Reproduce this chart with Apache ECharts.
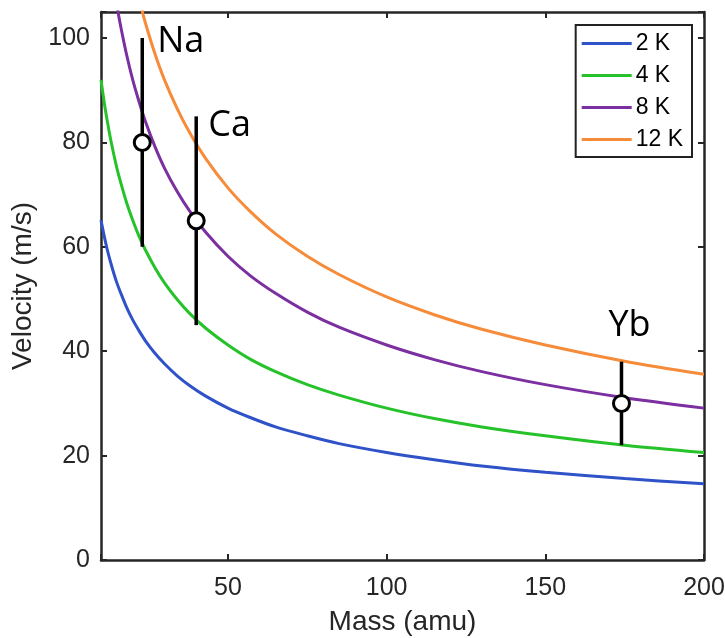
<!DOCTYPE html>
<html>
<head>
<meta charset="utf-8">
<script src="https://cdn.jsdelivr.net/npm/echarts@6/dist/echarts.min.js"></script>
<style>
  html, body { margin: 0; padding: 0; background: #fff; }
  #chart { width: 725px; height: 638px; }
</style>
</head>
<body>
<div id="chart"></div>
<script>
// Mean thermal velocity curves, sampled along the mass axis (amu → m/s)
const masses = [10, 11, 12, 13, 14, 15, 16, 18, 20, 22, 24, 27, 30, 34, 38, 43, 50, 57, 65, 75, 85, 100, 115, 130, 150, 175, 200];
const v2K  = [65.1, 62.1, 59.4, 57.1, 55.0, 53.1, 51.5, 48.5, 46.0, 43.9, 42.0, 39.6, 37.6, 35.3, 33.4, 31.4, 29.1, 27.3, 25.5, 23.8, 22.3, 20.6, 19.2, 18.0, 16.8, 15.6, 14.6];
const v4K  = [92.0, 87.7, 84.0, 80.7, 77.8, 75.1, 72.8, 68.6, 65.1, 62.0, 59.4, 56.0, 53.1, 49.9, 47.2, 44.4, 41.2, 38.5, 36.1, 33.6, 31.6, 29.1, 27.1, 25.5, 23.8, 22.0, 20.6];
const v8K  = [130.2, 124.1, 118.8, 114.2, 110.0, 106.3, 102.9, 97.0, 92.0, 87.8, 84.0, 79.2, 75.1, 70.6, 66.8, 62.8, 58.2, 54.5, 51.1, 47.5, 44.6, 41.2, 38.4, 36.1, 33.6, 31.1, 29.1];
const v12K = [159.4, 152.0, 145.5, 139.8, 134.7, 130.2, 126.0, 118.8, 112.7, 107.5, 102.9, 97.0, 92.0, 86.5, 81.8, 76.9, 71.3, 66.8, 62.5, 58.2, 54.7, 50.4, 47.0, 44.2, 41.2, 38.1, 35.6];
const curveNames = ['2 K', '4 K', '8 K', '12 K'];

// Measured species: mass, velocity and its uncertainty
const species = ['Na', 'Ca', 'Yb'];
const speciesMass = [23, 40, 174];
const speciesVel = [80, 65, 30];
const speciesErr = [20, 20, 8];

// Axis tick labels
const xTicks = [50, 100, 150, 200];
const yTicks = [0, 20, 40, 60, 80, 100];

// Styling
const curveColors = ['#2f52c8', '#25c22a', '#7b2fa0', '#f68b3a'];
const labelShift = [[15, -101], [12, -95], [-13, -78]];
const axisColor = '#262626';
const tickFont = { fontFamily: 'Liberation Sans, Arial, sans-serif', fontSize: 25, color: '#262626' };

const curves = [v2K, v4K, v8K, v12K];
const lineSeries = curves.map((vals, i) => ({
  name: curveNames[i],
  type: 'line',
  data: masses.map((m, j) => [m, vals[j]]),
  showSymbol: false,
  smooth: 0.3,
  clip: true,
  lineStyle: { color: curveColors[i], width: 3 },
  itemStyle: { color: curveColors[i] },
  z: 2
}));

const pointSeries = {
  type: 'custom',
  data: species.map((s, i) => [speciesMass[i], speciesVel[i], speciesErr[i], i]),
  z: 5,
  renderItem: function (params, api) {
    const m = api.value(0), v = api.value(1), e = api.value(2), idx = api.value(3);
    const c = api.coord([m, v]);
    const hi = api.coord([m, v + e]);
    const lo = api.coord([m, v - e]);
    const sh = labelShift[idx];
    return {
      type: 'group',
      children: [
        { type: 'line', shape: { x1: hi[0], y1: hi[1], x2: lo[0], y2: lo[1] },
          style: { stroke: '#000', lineWidth: 3.5 } },
        { type: 'circle', shape: { cx: c[0], cy: c[1], r: 8 },
          style: { fill: '#fff', stroke: '#000', lineWidth: 3 } },
        { type: 'text', x: c[0] + sh[0], y: c[1] + sh[1],
          style: { text: species[idx], fill: '#000', font: '36px "Open Sans", "Noto Sans", sans-serif',
                   textAlign: 'left', textVerticalAlign: 'middle' } }
      ]
    };
  }
};

const xLabelFmt = v => (xTicks.indexOf(v) >= 0 ? String(v) : '');
const yLabelFmt = v => (yTicks.indexOf(v) >= 0 ? String(v) : '');

const option = {
  backgroundColor: '#fff',
  animation: false,
  grid: { left: 101, right: 21, top: 12, bottom: 78, containLabel: false, outerBoundsMode: 'none' },
  legend: {
    data: curveNames,
    orient: 'vertical',
    right: 33,
    top: 25,
    icon: 'rect',
    itemWidth: 50,
    itemHeight: 3,
    itemGap: 9,
    padding: [7, 9, 6, 6],
    borderColor: '#222',
    borderWidth: 2,
    backgroundColor: '#fff',
    textStyle: { fontFamily: 'Liberation Sans, Arial, sans-serif', fontSize: 23, color: '#000', lineHeight: 23, padding: [0, 0, 0, -1] }
  },
  xAxis: [
    {
      type: 'value', min: 10, max: 200, minInterval: 50, maxInterval: 50,
      name: 'Mass (amu)', nameLocation: 'middle', nameGap: 48,
      nameTextStyle: { fontFamily: 'Liberation Sans, Arial, sans-serif', fontSize: 28, color: '#262626' },
      axisLine: { show: true, lineStyle: { color: axisColor, width: 2.5 } },
      axisTick: { show: true, inside: true, length: 6, lineStyle: { color: axisColor, width: 2 } },
      axisLabel: Object.assign({ margin: 16, formatter: xLabelFmt }, tickFont),
      splitLine: { show: false }
    },
    {
      type: 'value', position: 'top', min: 10, max: 200, minInterval: 50, maxInterval: 50,
      axisLine: { show: true, onZero: false, lineStyle: { color: axisColor, width: 2.5 } },
      axisTick: { show: true, inside: true, length: 6, lineStyle: { color: axisColor, width: 2 } },
      axisLabel: { show: false },
      splitLine: { show: false }
    }
  ],
  yAxis: [
    {
      type: 'value', min: 0, max: 105, interval: 20,
      name: 'Velocity (m/s)', nameLocation: 'middle', nameGap: 57,
      nameTextStyle: { fontFamily: 'Liberation Sans, Arial, sans-serif', fontSize: 28, color: '#262626' },
      axisLine: { show: true, lineStyle: { color: axisColor, width: 2.5 } },
      axisTick: { show: true, inside: true, length: 6, lineStyle: { color: axisColor, width: 2 } },
      axisLabel: Object.assign({ margin: 11, formatter: yLabelFmt }, tickFont),
      splitLine: { show: false }
    },
    {
      type: 'value', position: 'right', min: 0, max: 105, interval: 20,
      axisLine: { show: true, onZero: false, lineStyle: { color: axisColor, width: 2.5 } },
      axisTick: { show: true, inside: true, length: 6, lineStyle: { color: axisColor, width: 2 } },
      axisLabel: { show: false },
      splitLine: { show: false }
    }
  ],
  series: lineSeries.concat([pointSeries])
};

const chart = echarts.init(document.getElementById('chart'), null, { renderer: 'canvas' });
chart.setOption(option);
</script>
</body>
</html>
